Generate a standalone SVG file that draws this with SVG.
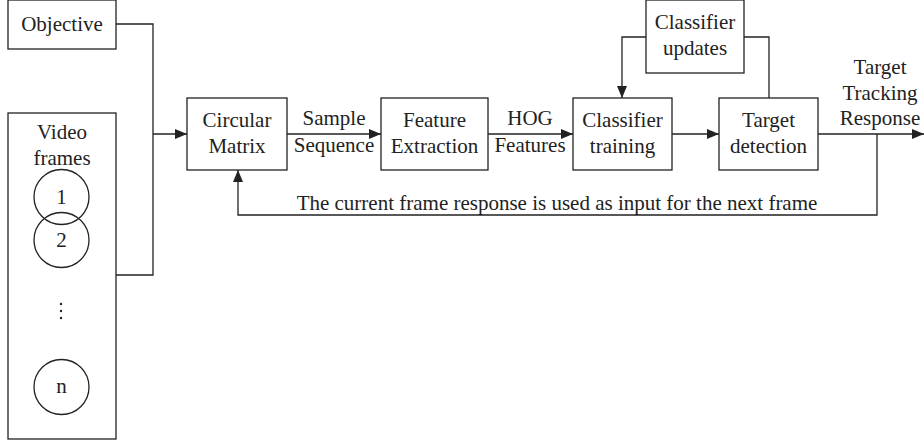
<svg xmlns="http://www.w3.org/2000/svg" width="924" height="443" viewBox="0 0 924 443">
<style>
.box{fill:#fff;stroke:#222;stroke-width:1.3}
.ln{fill:none;stroke:#222;stroke-width:1.3}
text{font-family:"Liberation Serif","Times New Roman",serif;font-size:21px;fill:#222;text-anchor:middle}
</style>
<defs>
<marker id="ar" viewBox="0 0 12 10" refX="12" refY="5" markerWidth="12" markerHeight="10" markerUnits="userSpaceOnUse" orient="auto">
<path d="M0,0 L12,5 L0,10 Z" fill="#222"/>
</marker>
</defs>
<rect width="924" height="443" fill="#fff"/>
<g id="connectors">
<polyline class="ln" points="116,24 153,24 153,275 116,275"/>
<line class="ln" x1="153" y1="134" x2="187" y2="134" marker-end="url(#ar)"/>
<line class="ln" x1="287" y1="134" x2="381" y2="134" marker-end="url(#ar)"/>
<line class="ln" x1="488" y1="134" x2="573" y2="134" marker-end="url(#ar)"/>
<line class="ln" x1="672" y1="134" x2="719" y2="134" marker-end="url(#ar)"/>
<line class="ln" x1="818" y1="134" x2="924" y2="134" marker-end="url(#ar)"/>
<polyline class="ln" points="646,37 622,37 622,98" marker-end="url(#ar)"/>
<polyline class="ln" points="744,37 769,37 769,98"/>
<polyline class="ln" points="877,134 877,215 238,215 238,170" marker-end="url(#ar)"/>
<text x="334" y="125">Sample</text>
<text x="334" y="152">Sequence</text>
<text x="530" y="125">HOG</text>
<text x="530" y="152">Features</text>
<text x="880" y="74">Target</text>
<text x="880" y="100">Tracking</text>
<text x="880" y="125">Response</text>
<text x="557" y="210">The current frame response is used as input for the next frame</text>
</g>
<g id="objective">
<rect class="box" x="8" y="0" width="108" height="49"/>
<text x="62" y="31">Objective</text>
</g>
<g id="video-frames">
<rect class="box" x="8" y="113" width="108" height="326"/>
<text x="62" y="139">Video</text>
<text x="62" y="165">frames</text>
<circle class="ln" cx="61.5" cy="197" r="27.5"/>
<circle class="ln" cx="61.5" cy="240" r="27.5"/>
<text x="61.5" y="204">1</text>
<text x="61.5" y="247">2</text>
<circle cx="61" cy="304" r="1.2" fill="#222"/>
<circle cx="61" cy="311" r="1.2" fill="#222"/>
<circle cx="61" cy="318" r="1.2" fill="#222"/>
<circle class="ln" cx="61.5" cy="387" r="27.5"/>
<text x="61.5" y="393">n</text>
</g>
<g id="circular-matrix">
<rect class="box" x="187" y="98" width="100" height="72"/>
<text x="237" y="127">Circular</text>
<text x="237" y="153">Matrix</text>
</g>
<g id="feature-extraction">
<rect class="box" x="381" y="98" width="107" height="72"/>
<text x="434.5" y="127">Feature</text>
<text x="434.5" y="153">Extraction</text>
</g>
<g id="classifier-training">
<rect class="box" x="573" y="98" width="99" height="72"/>
<text x="622.5" y="127">Classifier</text>
<text x="622.5" y="153">training</text>
</g>
<g id="target-detection">
<rect class="box" x="719" y="98" width="99" height="72"/>
<text x="768.5" y="127">Target</text>
<text x="768.5" y="153">detection</text>
</g>
<g id="classifier-updates">
<rect class="box" x="646" y="0" width="98" height="73"/>
<text x="695" y="29">Classifier</text>
<text x="695" y="55">updates</text>
</g>
</svg>
